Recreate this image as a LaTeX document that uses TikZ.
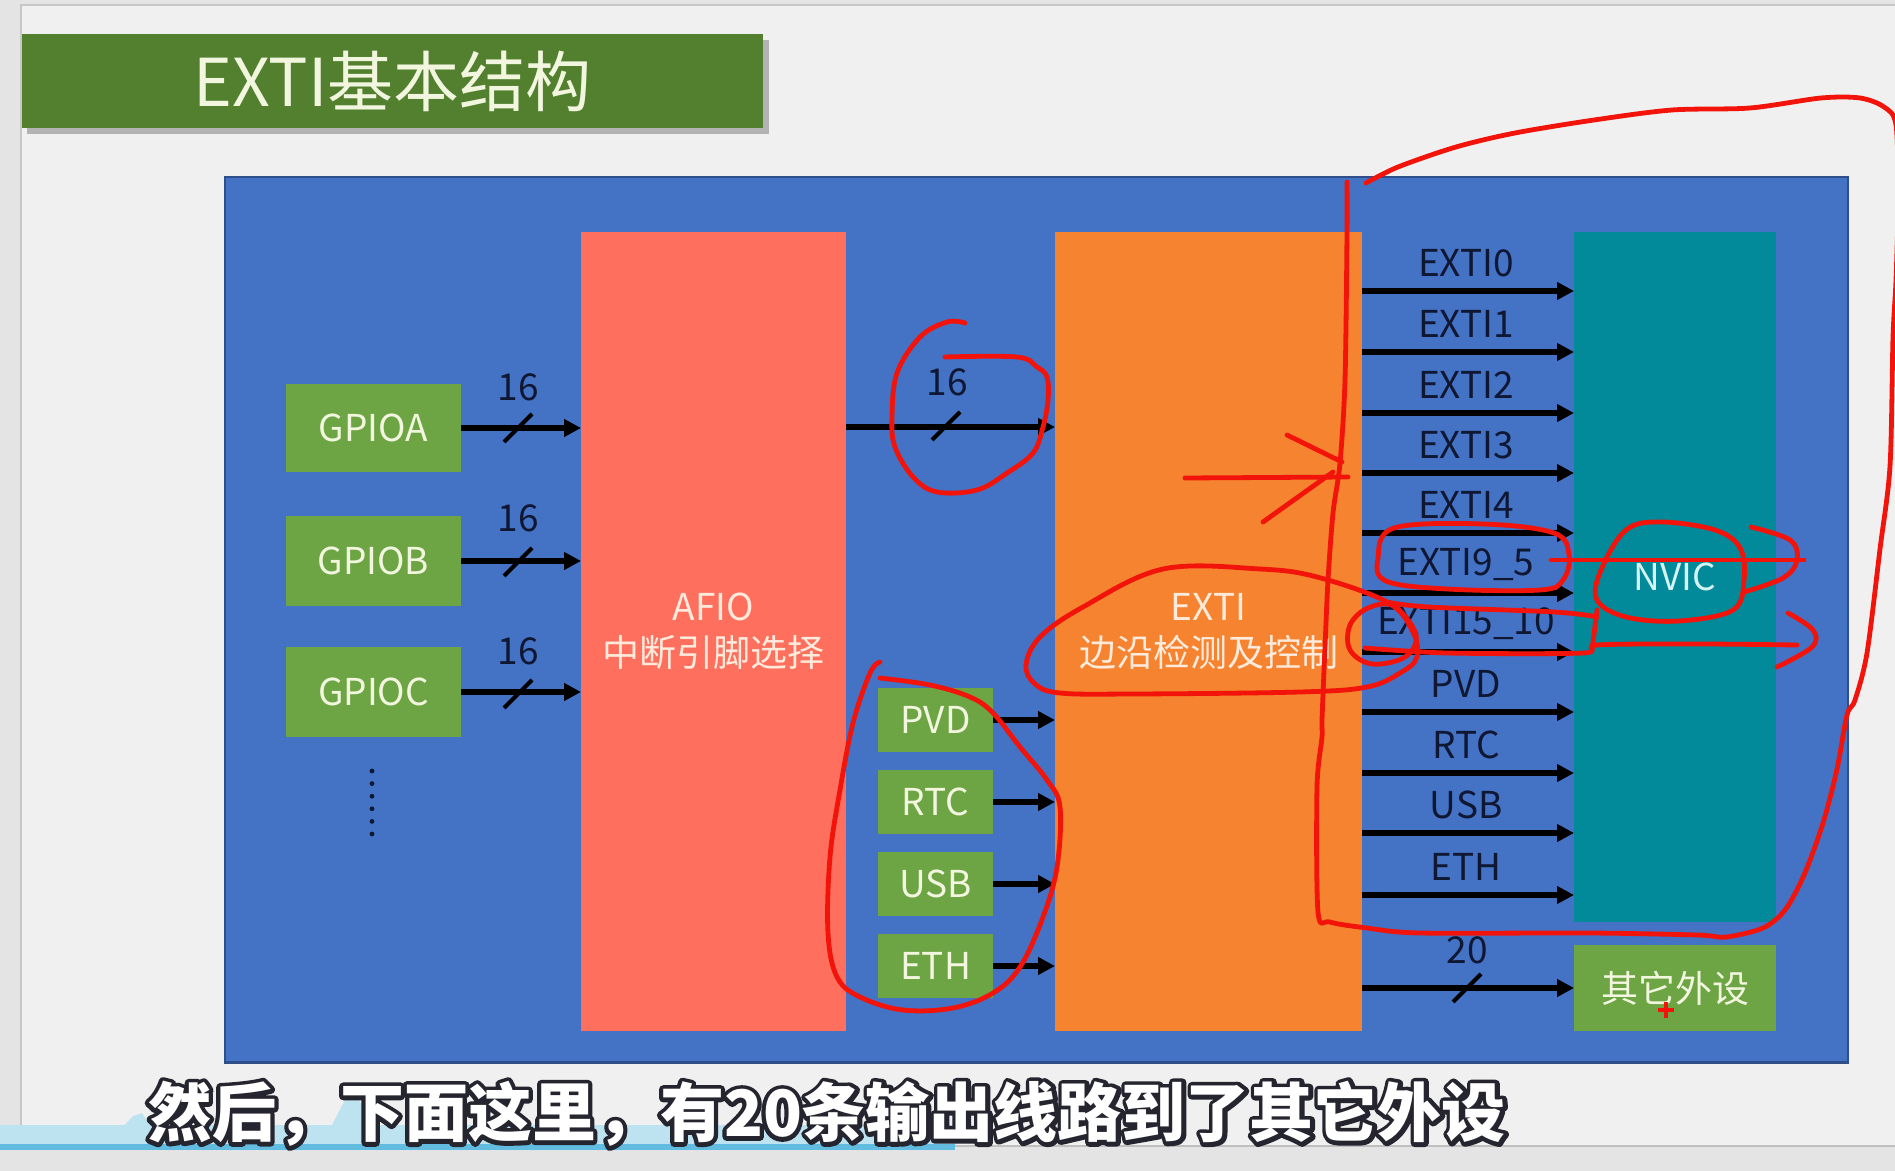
\documentclass[tikz,border=0pt]{standalone}
\usepackage{fontspec}
\setmainfont{Noto Sans CJK SC}
\usetikzlibrary{arrows.meta,fit}
\definecolor{bgout}{HTML}{E4E4E4}
\definecolor{slide}{HTML}{F0F0F0}
\definecolor{bluebg}{HTML}{4472C4}
\definecolor{blueedge}{HTML}{2F4F8A}
\definecolor{salmon}{HTML}{FF6F5E}
\definecolor{orng}{HTML}{F5832F}
\definecolor{tealbox}{HTML}{02899A}
\definecolor{gbox}{HTML}{6DA544}
\definecolor{tgreen}{HTML}{52802F}
\definecolor{ink}{HTML}{0F1733}
\definecolor{redpen}{HTML}{F2140A}
\definecolor{cream}{HTML}{F2F6DF}
\definecolor{peach}{HTML}{FFEADB}
\definecolor{nvictext}{HTML}{D5F3F0}
\definecolor{wave}{HTML}{BDE3F0}
\definecolor{waveline}{HTML}{62BCE0}
\definecolor{subedge}{HTML}{25252F}
\newcommand{\outlinetext}[1]{\special{pdf:literal direct 2 Tr 4.2 w 1 J 1 j 0.145 0.145 0.184 RG}#1\special{pdf:literal direct 0 Tr}}
\begin{document}
\begin{tikzpicture}[x=0.5pt,y=-0.5pt,
  txt/.style={font=\fontsize{18.5}{23}\selectfont},
  lbl/.style={txt, text=ink, inner sep=0pt},
  blk/.style={inner sep=0pt, outer sep=0pt, align=center, txt},
  greenbox/.style={blk, fill=gbox, text=cream},
  arr/.style={black, line width=2.8pt, -{Triangle[length=8.5pt,width=8.5pt]}},
  slashst/.style={black, line width=2pt},
  pen/.style={draw=redpen, line width=2.4pt, line cap=round, line join=round},
  subt/.style={font=\fontsize{32}{36}\selectfont\bfseries, inner sep=0pt}
]
\useasboundingbox (0,0) rectangle (1895,1171);
\clip (0,0) rectangle (1895,1171);
% slide background
\fill[bgout] (0,0) rectangle (1895,1171);
\fill[slide] (21,5) rectangle (1895,1146);
\draw[black!22, line width=0.6pt] (21,1146) -- (21,5) -- (1895,5);
\draw[black!25, line width=0.6pt] (21,1146) -- (1895,1146);
% wave band
\fill[wave] (0,1125) -- (125,1125) -- (133,1116) -- (142,1113) -- (150,1125) -- (332,1125) -- (345,1100) -- (357,1096) -- (372,1125) -- (955,1125) -- (955,1150) -- (0,1150) -- cycle;
\fill[waveline] (0,1144) rectangle (955,1150);
% title
\fill[black, opacity=0.25] (27,40) rectangle (769,134);
\node[blk, fill=tgreen, fit={(22,34)(763,128)}] (title) {};
\node[inner sep=0pt, text=cream, font=\fontsize{33}{36}\selectfont] (titletext) at (title.center) {EXTI基本结构};
% panel
\node[fill=bluebg, draw=blueedge, line width=0.8pt, inner sep=0pt, fit={(225,177)(1848,1062)}] (panel) {};
\draw[blueedge, line width=1.6pt] (panel.south west) -- (panel.south east);
% main blocks
\node[blk, fill=salmon, fit={(581,232)(846,1031)}] (afio) {};
\node[blk, text=peach] (afiotext) at (afio.center) {AFIO\\中断引脚选择};
\node[blk, fill=orng, fit={(1055,232)(1362,1031)}] (exti) {};
\node[blk, text=peach] (extitext) at (exti.center) {EXTI\\边沿检测及控制};
\node[blk, fill=tealbox, fit={(1574,232)(1776,922)}] (nvic) {};
\node[blk, text=nvictext] (nvictxt) at (nvic.center) {NVIC};
\node[blk, fill=gbox, fit={(1574,945)(1776,1031)}] (other) {};
\node[blk, text=cream] (othertxt) at (other.center) {其它外设};
% GPIO boxes
\node[greenbox, minimum width=87.5pt, minimum height=44pt] (gpioa) at (373.5,428) {GPIOA};
\node[greenbox, minimum width=87.5pt, minimum height=45pt] (gpiob) at (373.5,561) {GPIOB};
\node[greenbox, minimum width=87.5pt, minimum height=45pt] (gpioc) at (373.5,692) {GPIOC};
\foreach \i in {0,...,5} \fill[ink] (372,771+\i*12.6) circle[radius=2.4];
% PVD etc boxes
\node[greenbox, minimum width=57.5pt, minimum height=32pt] (pvd) at (935.5,720) {PVD};
\node[greenbox, minimum width=57.5pt, minimum height=32pt] (rtc) at (935.5,802) {RTC};
\node[greenbox, minimum width=57.5pt, minimum height=32pt] (usb) at (935.5,884) {USB};
\node[greenbox, minimum width=57.5pt, minimum height=32pt] (eth) at (935.5,966) {ETH};
% GPIO arrows
\foreach \g in {gpioa,gpiob,gpioc} \draw[arr] (\g.east) -- (afio.west |- \g.east);
\draw[slashst] (504,442) -- (532,414);
\draw[slashst] (504,576) -- (532,548);
\draw[slashst] (504,708) -- (532,680);
\node[lbl] (n16a) at (518,387) {16};
\node[lbl] (n16b) at (518,518) {16};
\node[lbl] (n16c) at (518,651) {16};
% AFIO -> EXTI
\coordinate (y16) at (0,427);
\draw[arr] (afio.east |- y16) -- (exti.west |- y16);
\draw[slashst] (932,440) -- (960,412);
\node[lbl] (n16d) at (947,382) {16};
% PVD etc arrows
\foreach \g in {pvd,rtc,usb,eth} \draw[arr] (\g.east) -- (exti.west |- \g.east);
% EXTI outputs
\foreach \lab/\y in {EXTI0/291,EXTI1/352,EXTI2/413,EXTI3/473,EXTI4/533,EXTI9\_5/593,EXTI15\_10/652,PVD/712,RTC/773,USB/833,ETH/895} {
  \coordinate (ya\y) at (0,\y);
  \draw[arr] (exti.east |- ya\y) -- (nvic.west |- ya\y);
  \node[lbl] (lab\y) at (1466,\y-28) {\lab};
}
\draw[arr] (exti.east |- other.west) -- (other.west);
\draw[slashst] (1453,1002) -- (1481,974);
\node[lbl] (n20) at (1467,950) {20};
% red annotations
\draw[pen] plot[smooth, tension=0.6] coordinates {(965,323) (947,322) (920,337) (897,373) (892,417) (895,447) (913,477) (937,492) (977,490) (1007,473) (1033,453) (1043,427) (1048,400) (1047,377) (1037,367) (1017,357) (945,357)};
\draw[pen] plot[smooth, tension=0.6] coordinates {(880,662) (870,673) (853,723) (840,790) (830,857) (828,933) (837,977) (860,997) (903,1010) (953,1008) (993,993) (1020,967) (1043,917) (1057,867) (1060,807) (1047,780) (1020,747) (993,713) (970,697) (930,685) (880,678)};
\draw[pen] plot[smooth, tension=0.5] coordinates {(1366,183) (1398,167) (1456,147) (1515,133) (1594,120) (1672,110) (1750,108) (1821,98) (1860,98) (1884,107) (1896,125) (1898,200) (1896,280) (1893,337) (1890,466) (1880,549) (1867,653) (1855,700) (1847,715) (1837,769) (1823,823) (1804,875) (1785,910) (1763,928) (1726,937) (1697,935) (1590,933) (1420,933) (1367,928) (1330,922) (1318,912) (1317,787) (1322,737) (1322,720) (1325,647) (1328,580) (1333,513) (1340,463) (1345,380) (1347,233) (1347,182)};
\draw[pen] (1185,478) -- (1348,477);
\draw[pen] (1287,435) -- (1342,462);
\draw[pen] (1263,522) -- (1333,472);
\draw[pen] plot[smooth cycle, tension=0.6] coordinates {(1387,602) (1317,577) (1260,569) (1163,569) (1083,607) (1040,637) (1026,665) (1035,684) (1060,693) (1133,694) (1300,692) (1367,687) (1400,673) (1417,657) (1412,630)};
\draw[pen] plot[smooth, tension=0.6] coordinates {(1387,602) (1429,607) (1554,612) (1597,617)};
\draw[pen] plot[smooth cycle, tension=0.6] coordinates {(1394,606) (1368,608) (1350,625) (1350,650) (1372,664) (1405,657) (1416,635)};
\draw[pen] plot[smooth, tension=0.5] coordinates {(1365,648) (1447,653) (1583,653) (1597,645) (1700,644) (1797,645)};
\draw[pen] (1597,610) -- (1592,650);
\draw[pen] plot[smooth, tension=0.6] coordinates {(1788,613) (1813,630) (1812,647) (1777,667)};
\draw[pen] plot[smooth cycle, tension=0.6] coordinates {(1378,558) (1394,528) (1483,524) (1554,533) (1569,555) (1563,580) (1540,590) (1447,589) (1386,581)};
\draw[pen] (1551,560) -- (1804,560);
\draw[pen] plot[smooth, tension=0.6] coordinates {(1751,527) (1790,540) (1797,560) (1783,578) (1744,592)};
\draw[pen] plot[smooth cycle, tension=0.6] coordinates {(1601,570) (1626,530) (1661,522) (1715,530) (1740,548) (1744,580) (1733,610) (1679,621) (1626,617) (1597,600)};
\draw[redpen, line width=1.6pt] (1658,1010) -- (1674,1010) (1666,1002) -- (1666,1018);
% subtitle: dark outlined copy under the white text
\node[subt, text=subedge] (subo) at (827,1114) {\outlinetext{然后，下面这里，有20条输出线路到了其它外设}};
\node[subt, text=white] (sub) at (827,1114) {然后，下面这里，有20条输出线路到了其它外设};
\end{tikzpicture}
\end{document}
